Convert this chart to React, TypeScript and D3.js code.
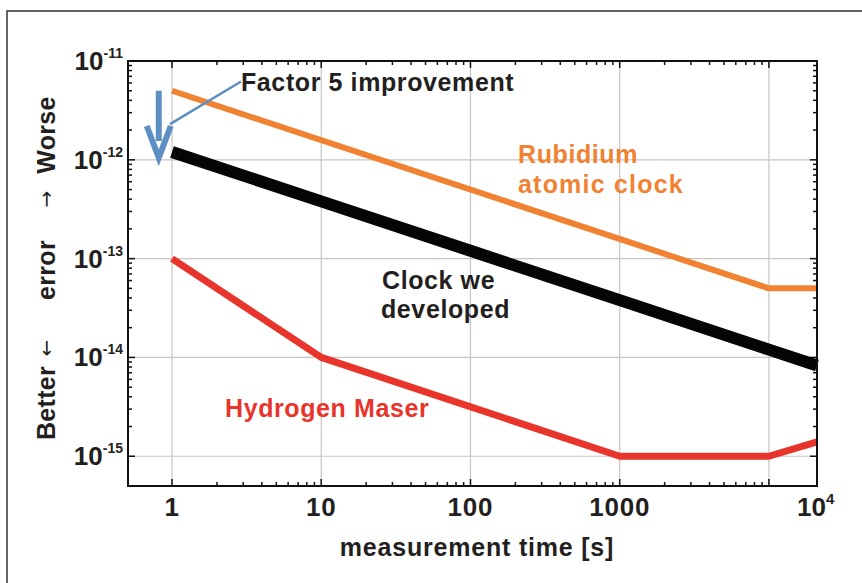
import React from "react";
import * as d3 from "d3";

// ---- Data ----
const rubidiumTau = [1, 10000, 21000];
const rubidiumErr = [5e-12, 5e-14, 5e-14];

const clockTau = [1, 10, 100, 1000, 10000, 21000];
const clockErr = [1.2e-12, 3.8e-13, 1.2e-13, 3.8e-14, 1.2e-14, 8.3e-15];

const maserTau = [1, 10, 1000, 10000, 21000];
const maserErr = [1e-13, 1e-14, 1e-15, 1e-15, 1.4e-15];

const xTickValues = [1, 10, 100, 1000];
const xTickLabels = ["1", "10", "100", "1000"];
const xEndLabel = { base: "10", exp: "4" };
const yTickValues = [1e-11, 1e-12, 1e-13, 1e-14, 1e-15];
const yTickExps = ["-11", "-12", "-13", "-14", "-15"];

const xDomain: [number, number] = [0.507, 21000];
const yDomain: [number, number] = [5e-16, 1e-11];

const W = 862;
const H = 583;
const M = { left: 128, right: 817, top: 61, bottom: 486 };

const FONT = "'Liberation Sans', Arial, Helvetica, sans-serif";
const ORANGE = "#F18232";
const RED = "#E8342B";
const BLACK = "#050505";
const BLUE = "#5E8FC2";
const TEXT = "#231F20";

export default function App() {
  const x = d3.scaleLog().domain(xDomain).range([M.left, M.right]);
  const y = d3.scaleLog().domain(yDomain).range([M.bottom, M.top]);

  const line = d3
    .line<[number, number]>()
    .x((d) => x(d[0]))
    .y((d) => y(d[1]));

  const zip = (a: number[], b: number[]) => a.map((v, i) => [v, b[i]] as [number, number]);

  const xGrid = [1, 10, 100, 1000, 10000];
  const yGrid = [1e-12, 1e-13, 1e-14, 1e-15];

  const xMinor: number[] = [];
  for (let e = 0; e < 4; e++) for (let k = 2; k <= 9; k++) xMinor.push(k * Math.pow(10, e));
  const yMinor: number[] = [];
  for (let e = -15; e < -11; e++) for (let k = 2; k <= 9; k++) yMinor.push(k * Math.pow(10, e));

  const tickColor = "#111";
  const lab = { fontSize: 25, fontWeight: "bold" as const, letterSpacing: 0.6 };
  const ax = 0.815;

  return (
    <svg
      width={W}
      height={H}
      style={{ position: "absolute", left: 0, top: 0, background: "#fff" }}
      fontFamily={FONT}
    >
      <rect x={0} y={0} width={W} height={H} fill="#fff" />
      <rect x={7} y={11} width={W + 20} height={H + 20} fill="none" stroke="#333" strokeWidth={1.5} />

      {xGrid.map((v) => (
        <line key={"gx" + v} x1={x(v)} x2={x(v)} y1={M.top} y2={M.bottom} stroke="#c9c4c4" strokeWidth={1.2} />
      ))}
      {yGrid.map((v) => (
        <line key={"gy" + v} x1={M.left} x2={M.right} y1={y(v)} y2={y(v)} stroke="#c9c4c4" strokeWidth={1.2} />
      ))}

      <g stroke={tickColor} strokeWidth={1.5}>
        {xMinor.map((v) => (
          <g key={"xm" + v}>
            <line x1={x(v)} x2={x(v)} y1={M.bottom} y2={M.bottom - 4} />
            <line x1={x(v)} x2={x(v)} y1={M.top} y2={M.top + 4} />
          </g>
        ))}
        {xGrid.map((v) => (
          <g key={"xM" + v}>
            <line x1={x(v)} x2={x(v)} y1={M.bottom} y2={M.bottom - 7} />
            <line x1={x(v)} x2={x(v)} y1={M.top} y2={M.top + 7} />
          </g>
        ))}
        {yMinor.map((v) => (
          <g key={"ym" + v}>
            <line x1={M.left} x2={M.left + 4} y1={y(v)} y2={y(v)} />
            <line x1={M.right} x2={M.right - 4} y1={y(v)} y2={y(v)} />
          </g>
        ))}
        {yTickValues.map((v) => (
          <g key={"yM" + v}>
            <line x1={M.left} x2={M.left + 7} y1={y(v)} y2={y(v)} />
            <line x1={M.right} x2={M.right - 7} y1={y(v)} y2={y(v)} />
          </g>
        ))}
      </g>

      <path d={line(zip(rubidiumTau, rubidiumErr)) || ""} fill="none" stroke={ORANGE} strokeWidth={6} strokeLinejoin="round" />
      <path d={line(zip(maserTau, maserErr)) || ""} fill="none" stroke={RED} strokeWidth={7} strokeLinejoin="round" />
      <path d={line(zip(clockTau, clockErr)) || ""} fill="none" stroke={BLACK} strokeWidth={12} strokeLinejoin="round" />

      <rect x={M.left} y={M.top} width={M.right - M.left} height={M.bottom - M.top} fill="none" stroke="#111" strokeWidth={2} />

      {yTickValues.map((v, i) => (
        <text key={"yl" + v} x={123} y={y(v) + 9} textAnchor="end" fontSize={26} fontWeight="bold" fill={TEXT}>
          10
          <tspan fontSize={14} dy={-12}>{yTickExps[i]}</tspan>
        </text>
      ))}

      {xTickValues.map((v, i) => (
        <text key={"xl" + v} x={x(v)} y={516} textAnchor="middle" fontSize={26} fontWeight="bold" letterSpacing={0.8} fill={TEXT}>
          {xTickLabels[i]}
        </text>
      ))}
      <text x={x(xDomain[1]) - 20} y={516} fontSize={26} fontWeight="bold" fill={TEXT}>
        {xEndLabel.base}
        <tspan fontSize={15} dy={-12}>{xEndLabel.exp}</tspan>
      </text>

      <text x={477} y={556} textAnchor="middle" fontSize={25} fontWeight="bold" letterSpacing={0.8} fill={TEXT}>
        measurement time [s]
      </text>

      {/* y axis title pieces */}
      <g fill={TEXT}>
        <text transform="translate(55, 403) rotate(-90)" textAnchor="middle" fontSize={25} fontWeight="bold" letterSpacing={0.3}>Better</text>
        <text transform="translate(53, 348) rotate(-90)" textAnchor="middle" fontSize={20} fontFamily="'DejaVu Sans', sans-serif">{"\u2190"}</text>
        <text transform="translate(55, 270) rotate(-90)" textAnchor="middle" fontSize={25} fontWeight="bold" letterSpacing={0.3}>error</text>
        <text transform="translate(53, 199) rotate(-90)" textAnchor="middle" fontSize={20} fontFamily="'DejaVu Sans', sans-serif">{"\u2192"}</text>
        <text transform="translate(55, 135) rotate(-90)" textAnchor="middle" fontSize={25} fontWeight="bold" letterSpacing={0.3}>Worse</text>
      </g>

      <text x={518} y={163} {...lab} fill={ORANGE}>Rubidium</text>
      <text x={518} y={193} {...lab} letterSpacing={1.2} fill={ORANGE}>atomic clock</text>
      <text x={382} y={289} {...lab} fill={TEXT}>Clock we</text>
      <text x={381} y={318} {...lab} fill={TEXT}>developed</text>
      <text x={225} y={417} {...lab} fill={RED}>Hydrogen Maser</text>
      <text x={241} y={91} {...lab} fill={TEXT}>Factor 5 improvement</text>

      <line x1={x(ax)} y1={y(5e-12)} x2={x(ax)} y2={y(1.55e-12)} stroke={BLUE} strokeWidth={6} />
      <path
        d={`M ${x(ax) - 12} ${y(2.2e-12)} L ${x(ax)} ${y(1.05e-12)} L ${x(ax) + 12} ${y(2.2e-12)}`}
        fill="none"
        stroke={BLUE}
        strokeWidth={6}
        strokeLinejoin="miter"
      />
      <line x1={x(0.97)} y1={y(2.3e-12)} x2={x(2.9)} y2={y(6.2e-12)} stroke={BLUE} strokeWidth={2.5} />
    </svg>
  );
}
